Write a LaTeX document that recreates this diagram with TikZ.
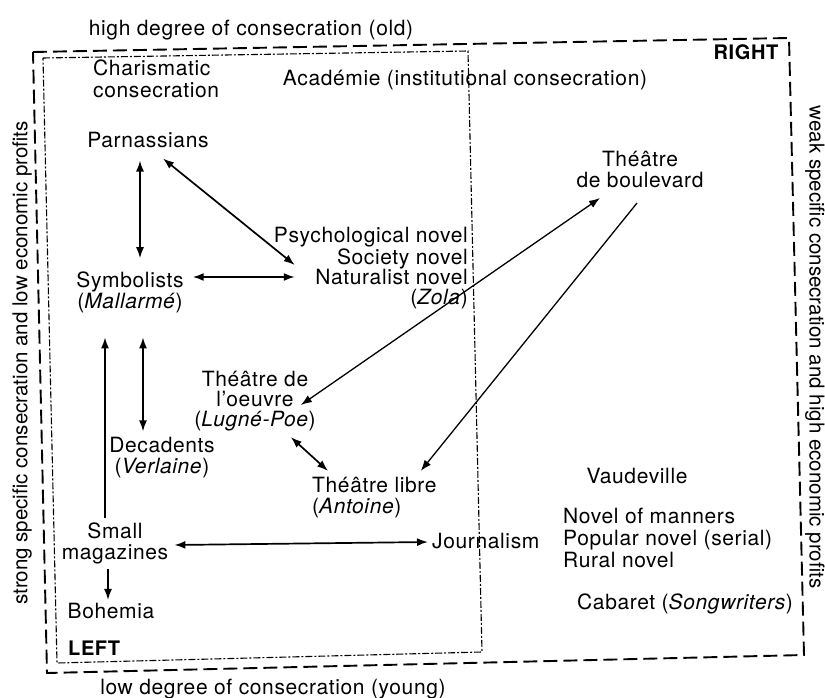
\documentclass[tikz,border=0pt]{standalone}
\usepackage{fontspec}
\setmainfont{TeX Gyre Heros}[LetterSpace=3]
\newfontfamily\sidefont{TeX Gyre Heros}
\usetikzlibrary{arrows.meta}
\begin{document}
\begin{tikzpicture}[x=1pt,y=-1pt,
  every node/.style={inner sep=0pt, font=\fontsize{21}{21}\selectfont},
  tip/.tip={Latex[length=11pt,width=8pt]},
  arr/.style={line width=1.7pt, tip-tip},
  arrone/.style={line width=1.7pt, -tip},
  outerframe/.style={line width=1.9pt, dash pattern=on 14pt off 6pt},
  innerframe/.style={line width=1.1pt, dash pattern=on 7pt off 2pt on 2pt off 2pt},
  sidelbl/.style={font=\sidefont\fontsize{20.5}{21}\selectfont},
  boldlbl/.style={font=\fontsize{20}{20}\selectfont\bfseries}]
\useasboundingbox (0,0) rectangle (825,698);
% frames
\draw[outerframe] (33,52) -- (789,38) -- (804,655) -- (47,673) -- cycle;
\draw[innerframe] (43,58) -- (468,51) -- (482,652) -- (57,663) -- cycle;
% axis labels
\node (high) at (251,30) {high degree of consecration (old)};
\node (low) at (273,689) {low degree of consecration (young)};
\node[rotate=90, sidelbl] (leftax) at (22,363) {strong specific consecration and low economic profits};
\node[rotate=-90, sidelbl] (rightax) at (815,347) {weak specific consecration and high economic profits};
\node[boldlbl] (rightlbl) at (746,52) {RIGHT};
\node[boldlbl, anchor=west] (leftlbl) at (68,648) {LEFT};
% contents
\node[align=left, anchor=west, font=\fontsize{21}{22}\selectfont] (char) at (93,79) {Charismatic\\consecration};
\node (acad) at (465,80) {Académie (institutional consecration)};
\node (parn) at (148,140) {Parnassians};
\node[align=center] (boul) at (640,169.5) {Théâtre\\de boulevard};
\node[align=right, anchor=east, font=\fontsize{21}{20}\selectfont] (novels) at (468,268) {Psychological novel\\Society novel\\Naturalist novel\\(\textit{Zola})\hspace{47pt}};
\node[align=center] (symb) at (130,292) {Symbolists\\(\textit{Mallarmé})};
\node[align=center, font=\fontsize{21}{20}\selectfont] (oeuvre) at (255,401) {Théâtre de\\l’oeuvre\\(\textit{Lugné-Poe})};
\node[align=center] (dec) at (162,458) {Decadents\\(\textit{Verlaine})};
\node[align=left, anchor=west] (libre) at (312,497.5) {Théâtre libre\\(\textit{Antoine})};
\node[align=center] (small) at (115,543.5) {Small\\magazines};
\node[anchor=west] (journ) at (432,541) {Journalism};
\node (boh) at (111,611) {Bohemia};
\node (vaud) at (637,476) {Vaudeville};
\node[align=left, anchor=west, font=\fontsize{21}{22}\selectfont] (manners) at (563,538) {Novel of manners\\Popular novel (serial)\\Rural novel};
\node[anchor=west] (cab) at (577,604) {Cabaret (\textit{Songwriters})};
% connectors
\draw[arr] ([shift={(-8,12.5)}]parn.south) -- ([shift={(10,-13)}]symb.north);
\draw[arr] ([shift={(15,10.5)}]parn.south) -- ([shift={(21,-3)}]novels.west);
\draw[arr] ([shift={(9,-15)}]symb.east) -- ([shift={(21,9)}]novels.west);
\draw[arr] ([shift={(13,24.6)}]symb.south) -- ([shift={(-19,-6)}]dec.north);
\draw[arrone] ([shift={(-10,-5)}]small.north) -- ([shift={(-25,24.6)}]symb.south);
\draw[arrone] ([shift={(-7,5)}]small.south) -- ([shift={(-3,-3)}]boh.north);
\draw[arr] ([shift={(6,1.5)}]small.east) -- ([shift={(-4,1)}]journ.west);
\draw[arr] ([shift={(-25,6)}]oeuvre.south east) -- ([shift={(16,-6)}]libre.north west);
\draw[arr, line width=1.3pt] ([shift={(-15,4)}]oeuvre.east) -- ([shift={(-40,10)}]boul.south);
\draw[arrone, line width=1.3pt] ([shift={(-3,15)}]boul.south) -- ([shift={(-16,-6)}]libre.north east);
\end{tikzpicture}
\end{document}
